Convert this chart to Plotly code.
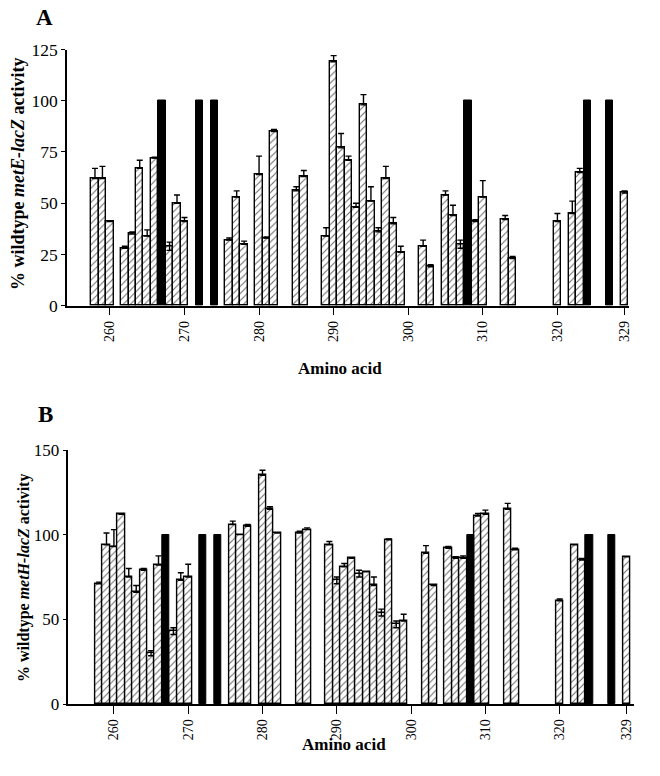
import plotly.graph_objects as go

W, H = 660, 776

# ---------------- Panel A (metE-lacZ) ----------------
a_res = [258, 259, 260, 262, 263, 264, 265, 266, 268, 269, 270, 276, 277, 278,
         280, 281, 282, 285, 286, 289, 290, 291, 292, 293, 294, 295, 296, 297,
         298, 299, 302, 303, 305, 306, 307, 309, 310, 313, 314, 320, 322, 323, 329]
a_val = [62, 62, 41, 28, 35, 67, 34, 72, 29, 50, 41, 32, 53, 30,
         64, 33, 85, 56, 63, 34, 119, 77, 71, 48, 98, 51, 36, 62,
         40, 26, 29, 19, 54, 44, 30, 41, 53, 42, 23, 41, 45, 65, 55]
a_err_up = [5, 6, 0, 1, 1, 4, 3, 0.5, 2, 4, 2, 1, 3, 1.5,
            9, 0.5, 1, 2, 3, 4, 3, 7, 2, 2, 5, 7, 2, 6,
            3, 3, 3, 1, 2, 5, 2, 1, 8, 2, 1, 4, 6, 2, 1]
a_err_dn = [0, 0, 0, 0, 0, 0, 0, 0, 2, 0, 0, 0, 0, 0,
            0, 0, 0, 0, 0, 0, 0, 0, 0, 0, 0, 0, 0, 0,
            0, 0, 0, 0, 0, 0, 2, 0, 0, 0, 0, 0, 0, 0, 0]
a_black_res = [267, 272, 274, 308, 324, 327]
a_black_val = [100, 100, 100, 100, 100, 100]

# ---------------- Panel B (metH-lacZ) ----------------
b_res = [258, 259, 260, 261, 262, 263, 264, 265, 266, 268, 269, 270, 276, 277,
         278, 280, 281, 282, 285, 286, 289, 290, 291, 292, 293, 294, 295, 296,
         297, 298, 299, 302, 303, 305, 306, 307, 309, 310, 313, 314, 320, 322,
         323, 329]
b_val = [71, 94, 93, 112, 75, 66, 79, 30, 82, 43, 73, 75, 106, 100,
         105, 135, 115, 101, 101, 103, 94, 73, 81, 86, 77, 78, 70, 54,
         97, 47, 49, 89, 70, 92, 86, 86, 111, 112, 115, 91, 61, 94,
         85, 87]
b_err_up = [1, 7, 10, 0, 5, 4, 1, 1.5, 5.5, 2, 4.5, 7.5, 2, 0,
            1, 3, 1.5, 0, 1, 1, 2, 2, 2, 0, 2, 0, 5, 2,
            0.5, 2, 4, 4.5, 0, 1, 1, 1.5, 1.5, 2.5, 3.5, 1, 1, 0,
            1, 0]
b_err_dn = [0, 0, 0, 0, 0, 0, 0, 1.5, 0, 2, 0, 0, 0, 0,
            0, 0, 0, 0, 0, 0, 0, 2, 0, 0, 2, 0, 0, 2,
            0, 2, 0, 0, 0, 0, 0, 0, 0, 0, 0, 0, 0, 0,
            0, 0]
b_black_res = [267, 272, 274, 308, 324, 327]
b_black_val = [100, 100, 100, 100, 100, 100]

tick_vals = [260, 270, 280, 290, 300, 310, 320, 329]
tick_text = ["260", "270", "280", "290", "300", "310", "320", "329"]

SERIF = "Liberation Serif"

fig = go.Figure()

def hatched(x, y, up, dn, xa, ya):
    return go.Bar(
        x=x, y=y, width=1, xaxis=xa, yaxis=ya, showlegend=False,
        marker=dict(color="white",
                    line=dict(color="black", width=1.4),
                    pattern=dict(shape="/", fgcolor="#666666", bgcolor="white",
                                 size=5, solidity=0.2)),
        error_y=dict(type="data", symmetric=False, array=up, arrayminus=dn,
                     color="black", thickness=1.4, width=3),
    )

def black(x, y, xa, ya):
    return go.Bar(x=x, y=y, width=1, xaxis=xa, yaxis=ya, showlegend=False,
                  marker=dict(color="black", line=dict(color="black", width=1)))

fig.add_trace(hatched(a_res, a_val, a_err_up, a_err_dn, "x", "y"))
fig.add_trace(black(a_black_res, a_black_val, "x", "y"))
fig.add_trace(hatched(b_res, b_val, b_err_up, b_err_dn, "x2", "y2"))
fig.add_trace(black(b_black_res, b_black_val, "x2", "y2"))

def xdom(a, b):
    return [a / W, b / W]

def ydom(bottom, top):
    return [1 - bottom / H, 1 - top / H]

xa_common = dict(tickmode="array", tickvals=tick_vals, ticktext=tick_text,
                 tickangle=-90, ticks="outside", ticklen=8, tickwidth=1.2,
                 tickcolor="black", showline=True, linecolor="black", linewidth=1.5,
                 showgrid=False, zeroline=False, automargin=False,
                 tickfont=dict(family=SERIF, size=14, color="black"))
ya_common = dict(ticks="outside", ticklen=4, tickwidth=1.2, tickcolor="black",
                 showline=True, linecolor="black", linewidth=1.5, showgrid=False,
                 zeroline=False, automargin=False)

fig.update_layout(
    template="none",
    width=W, height=H, plot_bgcolor="white", paper_bgcolor="white",
    margin=dict(l=0, r=0, t=0, b=0, pad=0, autoexpand=False),
    barmode="overlay", bargap=0,
    xaxis=dict(domain=xdom(67, 629), range=[254.25, 329.6], anchor="y", **xa_common),
    yaxis=dict(domain=ydom(305.7, 49.5), range=[0, 125], dtick=25, anchor="x",
               tickfont=dict(family=SERIF, size=17.5, color="black"), **ya_common),
    xaxis2=dict(domain=xdom(68.3, 634), range=[253.86, 330.0], anchor="y2", **xa_common),
    yaxis2=dict(domain=ydom(704, 450), range=[0, 150], dtick=50, anchor="x2",
                tickfont=dict(family=SERIF, size=17, color="black"), **ya_common),
)

def ann(text, x, y, size, angle=0):
    fig.add_annotation(text=text, x=x / W, y=1 - y / H,
                       xref="paper", yref="paper",
                       showarrow=False, textangle=angle, xanchor="center", yanchor="middle",
                       font=dict(family=SERIF, size=size, color="black"))

ann("<b>A</b>", 44, 17, 23)
ann("<b>B</b>", 45, 414, 23)
ann("<b>Amino acid</b>", 340, 368, 17)
ann("<b>Amino acid</b>", 344, 744, 17)
ann("<b>% wildtype <i>metE-lacZ</i> activity</b>", 18, 174, 18, -90)
ann("<b>% wildtype <i>metH-lacZ</i> activity</b>", 24, 578, 16, -90)

# remove the default page margin so the 660x776 figure fills the window exactly
fig.write_html("out.html", config={"displayModeBar": False},
               post_script="document.body.style.margin='0';document.body.style.padding='0';")
